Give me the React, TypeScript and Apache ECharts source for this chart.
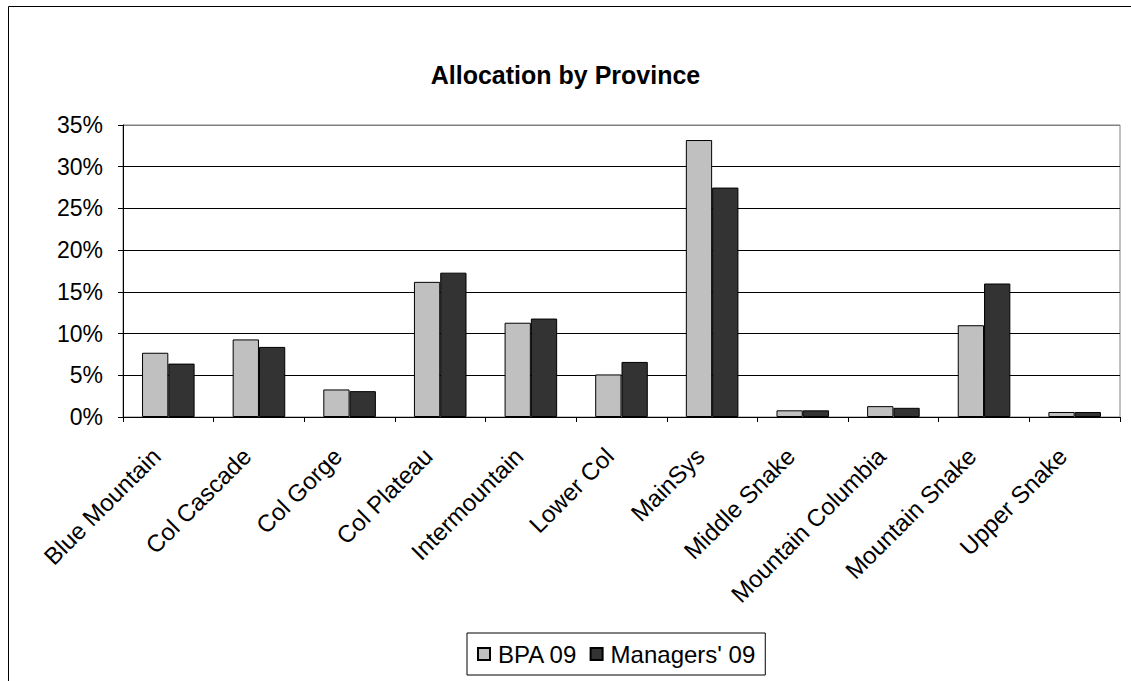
import React, { useEffect, useRef } from "react";
import * as echarts from "echarts";

const categories = [
  "Blue Mountain",
  "Col Cascade",
  "Col Gorge",
  "Col Plateau",
  "Intermountain",
  "Lower Col",
  "MainSys",
  "Middle Snake",
  "Mountain Columbia",
  "Mountain Snake",
  "Upper Snake",
];
const bpa09 = [7.7, 9.3, 3.3, 16.2, 11.3, 5.1, 33.2, 0.8, 1.3, 11.0, 0.6];
const managers09 = [6.4, 8.4, 3.1, 17.3, 11.8, 6.6, 27.5, 0.8, 1.1, 16.0, 0.6];
const seriesNames = ["BPA 09", "Managers' 09"];

const FONT = "'Liberation Sans', Arial, sans-serif";

export default function App() {
  const ref = useRef<HTMLDivElement>(null);
  useEffect(() => {
    if (!ref.current) return;
    const chart = echarts.init(ref.current, null, { renderer: "svg" });
    chart.setOption({
      animation: false,
      backgroundColor: "#ffffff",
      title: {
        text: "Allocation by Province",
        left: "center",
        top: 57,
        textStyle: { fontFamily: FONT, fontSize: 25, fontWeight: "bold", color: "#000" },
      },
      graphic: [
        {
          type: "rect",
          shape: { x: 8.5, y: 6.5, width: 1200, height: 1000 },
          style: { fill: "none", stroke: "#000", lineWidth: 1 },
          silent: true,
        },
      ],
      legend: {
        left: 467,
        top: 633,
        icon: "rect",
        itemWidth: 12,
        itemHeight: 12,
        itemGap: 12,
        padding: [9, 10, 9, 10],
        borderColor: "#000",
        borderWidth: 1,
        textStyle: { fontFamily: FONT, fontSize: 24, color: "#000", padding: [0, 0, 0, 3] },
        data: seriesNames,
      },
      grid: {
        left: 123,
        right: 11,
        top: 125,
        bottom: 264,
        show: true,
        borderColor: "#808080",
        borderWidth: 1,
        containLabel: false,
      },
      xAxis: {
        type: "category",
        data: categories,
        boundaryGap: true,
        axisLine: { lineStyle: { color: "#000", width: 1 } },
        axisTick: { show: true, length: 5, lineStyle: { color: "#000" } },
        axisLabel: {
          rotate: 45,
          interval: 0,
          margin: 23,
          padding: [0, 17, 0, 0],
          fontFamily: FONT,
          fontSize: 24,
          color: "#000",
        },
      },
      yAxis: {
        type: "value",
        min: 0,
        max: 35,
        interval: 5,
        axisLine: { show: true, lineStyle: { color: "#000", width: 1 } },
        axisTick: { show: true, length: 5, lineStyle: { color: "#000" } },
        axisLabel: {
          formatter: (v: number) => `${v}%`,
          margin: 20,
          fontFamily: FONT,
          fontSize: 23,
          color: "#000",
        },
        splitLine: {
          show: true,
          lineStyle: {
            color: ["#000", "#000", "#000", "#000", "#000", "#000", "#000", "#808080"],
            width: 1,
          },
        },
      },
      series: [
        {
          name: seriesNames[0],
          type: "bar",
          data: bpa09,
          barGap: "0%",
          barCategoryGap: "42%",
          itemStyle: { color: "#C0C0C0", borderColor: "#000", borderWidth: 1 },
        },
        {
          name: seriesNames[1],
          type: "bar",
          data: managers09,
          itemStyle: { color: "#333333", borderColor: "#000", borderWidth: 1 },
        },
      ],
    });
    return () => chart.dispose();
  }, []);
  return (
    <div
      ref={ref}
      style={{ position: "absolute", left: 0, top: 0, width: 1131, height: 681 }}
    />
  );
}
